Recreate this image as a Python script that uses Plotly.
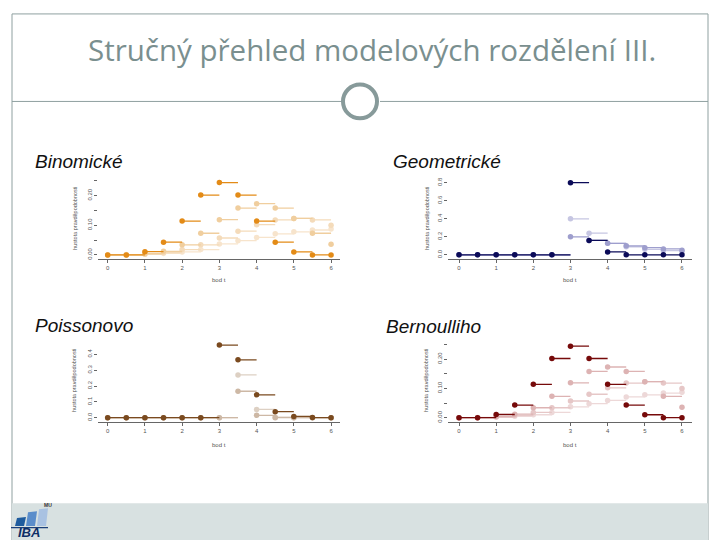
import plotly.graph_objects as go

W, H = 720, 540

# ---------------- data ----------------
X = [0, 0.5, 1, 1.5, 2, 2.5, 3, 3.5, 4, 4.5, 5, 5.5, 6]
x_tickvals = [0, 1, 2, 3, 4, 5, 6]
x_ticktext = ["0", "1", "2", "3", "4", "5", "6"]

binom_dark = [0, 0, 0.011, 0.043, 0.114, 0.202, 0.244, 0.202, 0.114, 0.043, 0.010, 0, 0]
binom_a = [0, 0, 0.004, 0.012, 0.034, 0.073, 0.119, 0.158, 0.173, 0.158, 0.123, 0.073, 0.036]
binom_b = [0, 0, 0.002, 0.008, 0.018, 0.034, 0.057, 0.080, 0.102, 0.118, 0.123, 0.118, 0.100]
binom_c = [0, 0.001, 0.002, 0.005, 0.010, 0.018, 0.037, 0.048, 0.059, 0.071, 0.078, 0.084, 0.087]

geom_dark = [0, 0, 0, 0, 0, 0, 0.80, 0.16, 0.033, 0, 0, 0, 0]
geom_a = [0, 0, 0, 0, 0, 0, 0.20, 0.16, 0.128, 0.100, 0.080, 0.066, 0.052]
geom_b = [0, 0, 0, 0, 0, 0, 0.40, 0.24, 0.128, 0.090, 0.062, 0.048, 0.037]

pois_dark = [0, 0, 0, 0, 0, 0, 0.458, 0.365, 0.144, 0.038, 0.008, 0.001, 0]
pois_a = [0, 0, 0, 0, 0, 0, 0, 0.270, 0.052, 0.003, 0, 0, 0]
pois_b = [0, 0, 0, 0, 0, 0, 0, 0.167, 0.015, 0, 0, 0, 0]

bern_dark = [0, 0, 0.011, 0.043, 0.114, 0.202, 0.244, 0.202, 0.114, 0.043, 0.010, 0, 0]
bern_a = [0, 0, 0.004, 0.012, 0.034, 0.073, 0.119, 0.158, 0.173, 0.158, 0.123, 0.073, 0.036]
bern_b = [0, 0, 0.002, 0.008, 0.018, 0.034, 0.057, 0.080, 0.102, 0.118, 0.123, 0.118, 0.100]
bern_c = [0, 0.001, 0.002, 0.005, 0.010, 0.018, 0.037, 0.048, 0.059, 0.071, 0.078, 0.084, 0.087]

binom_yticks = [0, 0.05, 0.10, 0.15, 0.20, 0.25]
binom_ytext = ["0.00", "", "0.10", "", "0.20", ""]
geom_yticks = [0, 0.2, 0.4, 0.6, 0.8]
geom_ytext = ["0.0", "0.2", "0.4", "0.6", "0.8"]
pois_yticks = [0, 0.1, 0.2, 0.3, 0.4]
pois_ytext = ["0.0", "0.1", "0.2", "0.3", "0.4"]

title_text = "Stručný přehled modelových rozdělení III."
panel_titles = ["Binomické", "Geometrické", "Poissonovo", "Bernoulliho"]
y_title = "hustota pravděpodobnosti"
x_title = "bod t"


def px(x):
    return x / W


def py(y):
    return 1 - y / H


fig = go.Figure()

panels = [
    dict(ax="", xd=(98, 340), yd=(176, 258), yr=(-0.0124, 0.2628),
         yt=binom_yticks, ytt=binom_ytext, xr=(-0.26, 6.24),
         series=[(binom_c, "#F7E4CC"), (binom_b, "#F4DBBA"), (binom_a, "#F0CE9E"), (binom_dark, "#E38B17")]),
    dict(ax="2", xd=(448, 692), yd=(178, 258), yr=(-0.041, 0.841),
         yt=geom_yticks, ytt=geom_ytext, xr=(-0.296, 6.27),
         series=[(geom_b, "#C6C6E2"), (geom_a, "#9E9ECD"), (geom_dark, "#0B0B58")]),
    dict(ax="3", xd=(98, 340), yd=(342, 422), yr=(-0.025, 0.477),
         yt=pois_yticks, ytt=pois_ytext, xr=(-0.26, 6.24),
         series=[(pois_a, "#DDD0C3"), (pois_b, "#CDB8A5"), (pois_dark, "#7A4A1F")]),
    dict(ax="4", xd=(448, 692), yd=(342, 422), yr=(-0.0135, 0.258),
         yt=binom_yticks, ytt=binom_ytext, xr=(-0.296, 6.27),
         series=[(bern_c, "#EDD8D8"), (bern_b, "#E6C7C7"), (bern_a, "#DDB3B3"), (bern_dark, "#760A0A")]),
]

for p in panels:
    xa = "x" + p["ax"]
    ya = "y" + p["ax"]
    for ys, col in p["series"]:
        sx, sy = [], []
        for i in range(len(X) - 1):
            sx += [X[i], X[i + 1], None]
            sy += [ys[i], ys[i], None]
        fig.add_trace(go.Scatter(x=sx, y=sy, mode="lines", line=dict(color=col, width=1.3),
                                 xaxis=xa, yaxis=ya, hoverinfo="skip", showlegend=False))
        fig.add_trace(go.Scatter(x=X, y=ys, mode="markers", marker=dict(color=col, size=5.5),
                                 xaxis=xa, yaxis=ya, showlegend=False))
    xkey = "xaxis" + p["ax"]
    ykey = "yaxis" + p["ax"]
    fig.update_layout(**{
        xkey: dict(domain=[px(p["xd"][0]), px(p["xd"][1])], range=list(p["xr"]), anchor=ya,
                   showgrid=False, zeroline=False, showline=True, linecolor="#666", linewidth=1,
                   ticks="outside", ticklen=3, tickcolor="#666", tickvals=x_tickvals, ticktext=x_ticktext,
                   tickfont=dict(size=6, color="#555", family="Liberation Sans"), fixedrange=True),
        ykey: dict(domain=[py(p["yd"][1]), py(p["yd"][0])], range=list(p["yr"]), anchor=xa,
                   showgrid=False, zeroline=False, showline=False,
                   ticks="outside", ticklen=3, tickcolor="#666", tickvals=p["yt"], ticktext=p["ytt"],
                   tickangle=-90, tickfont=dict(size=6, color="#555", family="Liberation Sans"),
                   fixedrange=True),
    })

shapes = []
shapes.append(dict(type="rect", xref="paper", yref="paper", x0=px(12), x1=px(708), y0=py(545), y1=py(12),
                   line=dict(color="#8FA0A0", width=1), layer="below"))
shapes.append(dict(type="rect", xref="paper", yref="paper", x0=px(12), x1=px(708), y0=py(541), y1=py(504),
                   fillcolor="#D8E1E1", line=dict(width=0), layer="below"))
shapes.append(dict(type="line", xref="paper", yref="paper", x0=px(12), x1=px(341), y0=py(100), y1=py(100),
                   line=dict(color="#8FA0A0", width=1)))
shapes.append(dict(type="line", xref="paper", yref="paper", x0=px(380), x1=px(708), y0=py(100), y1=py(100),
                   line=dict(color="#8FA0A0", width=1)))
shapes.append(dict(type="circle", xref="paper", yref="paper", x0=px(343), x1=px(377), y0=py(117), y1=py(83),
                   line=dict(color="#879A9A", width=4)))


def bar(x0, x1, ytop_l, ytop_r, ybot, col):
    return dict(type="path", xref="paper", yref="paper",
                path=f"M {px(x0)},{py(ybot)} L {px(x1)},{py(ybot)} L {px(x1 + 2)},{py(ytop_r)} L {px(x0 + 2)},{py(ytop_l)} Z",
                fillcolor=col, line=dict(width=0))


shapes.append(bar(15, 24, 519, 518, 527, "#1F5C9E"))
shapes.append(bar(26, 35, 513, 512, 527, "#5A8DCB"))
shapes.append(bar(37, 46, 510, 509, 527, "#A9C2E2"))
shapes.append(dict(type="line", xref="paper", yref="paper", x0=px(11), x1=px(48), y0=py(528.5), y1=py(528.5),
                   line=dict(color="#1A3F7A", width=1.2)))

annotations = []
annotations.append(dict(text=title_text, x=px(372), y=py(48), xref="paper", yref="paper", showarrow=False,
                        xanchor="center", yanchor="middle",
                        font=dict(family="Open Sans", size=29.5, color="#7A8F8F", weight=500)))
tpos = [(33, 160), (391, 160), (33, 325), (384, 326)]
for t, (tx, ty) in zip(panel_titles, tpos):
    annotations.append(dict(text=t, x=px(tx), y=py(ty), xref="paper", yref="paper", showarrow=False,
                            xanchor="left", yanchor="middle",
                            font=dict(family="Liberation Sans", size=19, color="#111", style="italic")))
for (yx, yy) in [(75, 218), (427, 218), (74, 381), (426, 381)]:
    annotations.append(dict(text=y_title, x=px(yx), y=py(yy), xref="paper", yref="paper", showarrow=False,
                            textangle=-90, xanchor="center", yanchor="middle",
                            font=dict(family="Liberation Sans", size=5.5, color="#555")))
for (xx, xy) in [(219, 280), (570, 280), (219, 445), (570, 445)]:
    annotations.append(dict(text=x_title, x=px(xx), y=py(xy), xref="paper", yref="paper", showarrow=False,
                            xanchor="center", yanchor="middle",
                            font=dict(family="Liberation Sans", size=6, color="#555")))
annotations.append(dict(text="<b><i>IBA</i></b>", x=px(29), y=py(533), xref="paper", yref="paper", showarrow=False,
                        xanchor="center", yanchor="middle",
                        font=dict(family="Liberation Sans", size=13, color="#0E2F66")))
annotations.append(dict(text="<b>MU</b>", x=px(48), y=py(506), xref="paper", yref="paper", showarrow=False,
                        xanchor="center", yanchor="middle",
                        font=dict(family="Liberation Sans", size=5, color="#333")))

fig.update_layout(width=W, height=H, margin=dict(l=0, r=0, t=0, b=0),
                  paper_bgcolor="white", plot_bgcolor="rgba(0,0,0,0)",
                  shapes=shapes, annotations=annotations, showlegend=False)

fig.write_html("out.html", config={"displayModeBar": False},
               post_script="document.body.style.margin='0';document.body.style.overflow='hidden';")
